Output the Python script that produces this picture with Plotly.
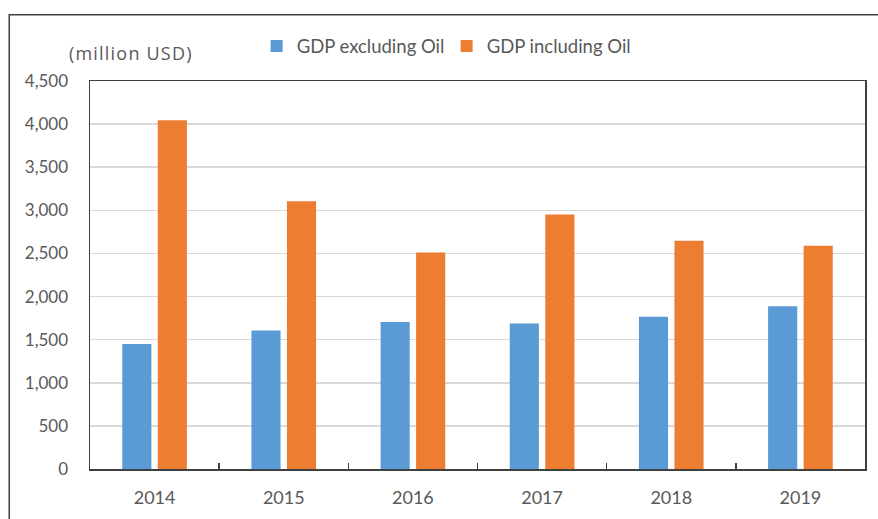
import plotly.graph_objects as go

years = ["2014", "2015", "2016", "2017", "2018", "2019"]
gdp_excl_oil = [1450, 1605, 1705, 1688, 1766, 1889]
gdp_incl_oil = [4045, 3105, 2510, 2952, 2648, 2590]
y_ticks = [0, 500, 1000, 1500, 2000, 2500, 3000, 3500, 4000, 4500]
y_tick_labels = ["0", "500", "1,000", "1,500", "2,000", "2,500", "3,000", "3,500", "4,000", "4,500"]

FONT = "Lato, 'Open Sans', sans-serif"
TXT = "#595959"

fig = go.Figure()
fig.add_trace(go.Bar(name="GDP excluding Oil", x=years, y=gdp_excl_oil,
                     marker=dict(color="#5b9bd5", line=dict(width=0))))
fig.add_trace(go.Bar(name="GDP including Oil", x=years, y=gdp_incl_oil,
                     marker=dict(color="#ed7d31", line=dict(width=0))))

fig.update_layout(
    width=878, height=519,
    margin=dict(l=90, r=11, t=81, b=46),
    paper_bgcolor="white", plot_bgcolor="white",
    barmode="group", bargap=0.45, bargroupgap=0.18,
    font=dict(family=FONT, size=17, color=TXT),
    showlegend=True,
    legend=dict(orientation="h", x=0.215, xanchor="left", y=1.089, yanchor="middle",
                font=dict(family=FONT, size=18.5, color=TXT), itemwidth=30,
                entrywidth=145, entrywidthmode="pixels",
                bgcolor="rgba(0,0,0,0)", traceorder="normal"),
    xaxis=dict(type="category", showline=True, linecolor="#404040", linewidth=1.5,
               mirror=True, ticks="inside", tickson="boundaries", ticklen=6,
               tickcolor="#404040", tickwidth=1.5, ticklabelstandoff=12,
               tickfont=dict(family=FONT, size=18, color=TXT), showgrid=False),
    yaxis=dict(range=[0, 4500], tickvals=y_ticks, ticktext=y_tick_labels,
               showline=True, linecolor="#404040", linewidth=1.5, mirror=True,
               showgrid=True, gridcolor="#d9d9d9", gridwidth=1.5,
               ticks="", ticklabelstandoff=17,
               tickfont=dict(family=FONT, size=17, color=TXT), zeroline=False),
    annotations=[dict(text='<span style="letter-spacing:1.2px">(million USD)</span>',
                      xref="paper", yref="paper",
                      x=0.053, y=1.071, xanchor="center", yanchor="middle",
                      showarrow=False,
                      font=dict(family="'Open Sans', sans-serif", size=18, color=TXT))],
    shapes=[dict(type="rect", xref="paper", yref="paper",
                 x0=-0.1042, x1=1.04, y0=-0.14, y1=1.1705,
                 line=dict(color="#404040", width=1.5), layer="below")],
)

fig.write_html(
    "out.html",
    config={"displayModeBar": False, "staticPlot": True},
    post_script="document.body.style.margin='0';document.documentElement.style.overflow='hidden';",
)
